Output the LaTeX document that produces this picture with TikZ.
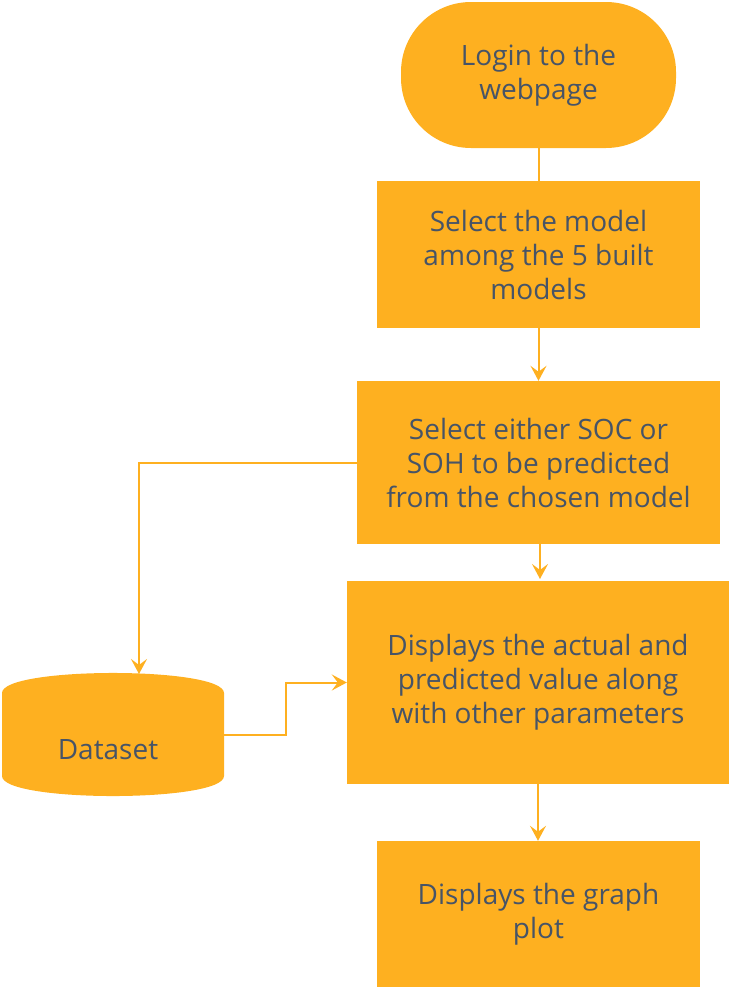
\documentclass[tikz,border=0pt]{standalone}
\usepackage{fontspec}
\setmainfont{Open Sans}
\usetikzlibrary{arrows.meta}
\definecolor{fillor}{HTML}{FEB020}
\definecolor{txtc}{HTML}{475467}
\begin{document}
\begin{tikzpicture}[x=1pt,y=-1pt,
  boxst/.style={fill=fillor,draw=none,rectangle,inner sep=0pt,text=txtc,align=center,
    font=\fontsize{28}{34}\selectfont},
  conn/.style={draw=fillor,line width=2pt,-{Stealth[length=15pt,width=16pt,inset=6pt]}},
  plainconn/.style={draw=fillor,line width=2pt}]
\useasboundingbox (0,0) rectangle (730,988);
\node[boxst,rounded corners=70pt,minimum width=275pt,minimum height=146pt] (login) at (538.5,75) {Login to the\\webpage};
\node[boxst,minimum width=323pt,minimum height=147pt] (model) at (538.5,254.5) {Select the model\\among the 5 built\\models};
\node[boxst,minimum width=363pt,minimum height=163pt] (soc) at (538.5,462.5) {Select either SOC or\\SOH to be predicted\\from the chosen model};
\node[boxst,minimum width=382pt,minimum height=203pt] (disp) at (538,682.5) {Displays the actual and\\predicted value along\\with other parameters};
\node[boxst,minimum width=323pt,minimum height=146pt] (graph) at (538.5,914) {Displays the graph\\plot};
% cylinder
\fill[fillor] (2,693) .. controls (2,666.3) and (224,666.3) .. (224,693) -- (224,776) .. controls (224,802.7) and (2,802.7) .. (2,776) -- cycle;
\node[inner sep=0pt,minimum width=222pt,minimum height=123pt] (ds) at (113,734.5) {};
\node[text=txtc,font=\fontsize{28}{34}\selectfont] (dslabel) at (108,750) {Dataset};
\coordinate (dstop) at (139,674);
\draw[plainconn] (login.south) -- (model.north);
\draw[conn] (model.south) -- (model.south |- soc.north);
\draw[conn] ([xshift=1.5pt]soc.south) -- ([xshift=1.5pt]soc.south |- 0,579);
\draw[conn] (disp.south) -- (disp.south |- graph.north);
\draw[conn] (soc.west) -| (dstop);
\draw[conn] (ds.east) -- (286,734.5) |- (disp.west);
\end{tikzpicture}
\end{document}
